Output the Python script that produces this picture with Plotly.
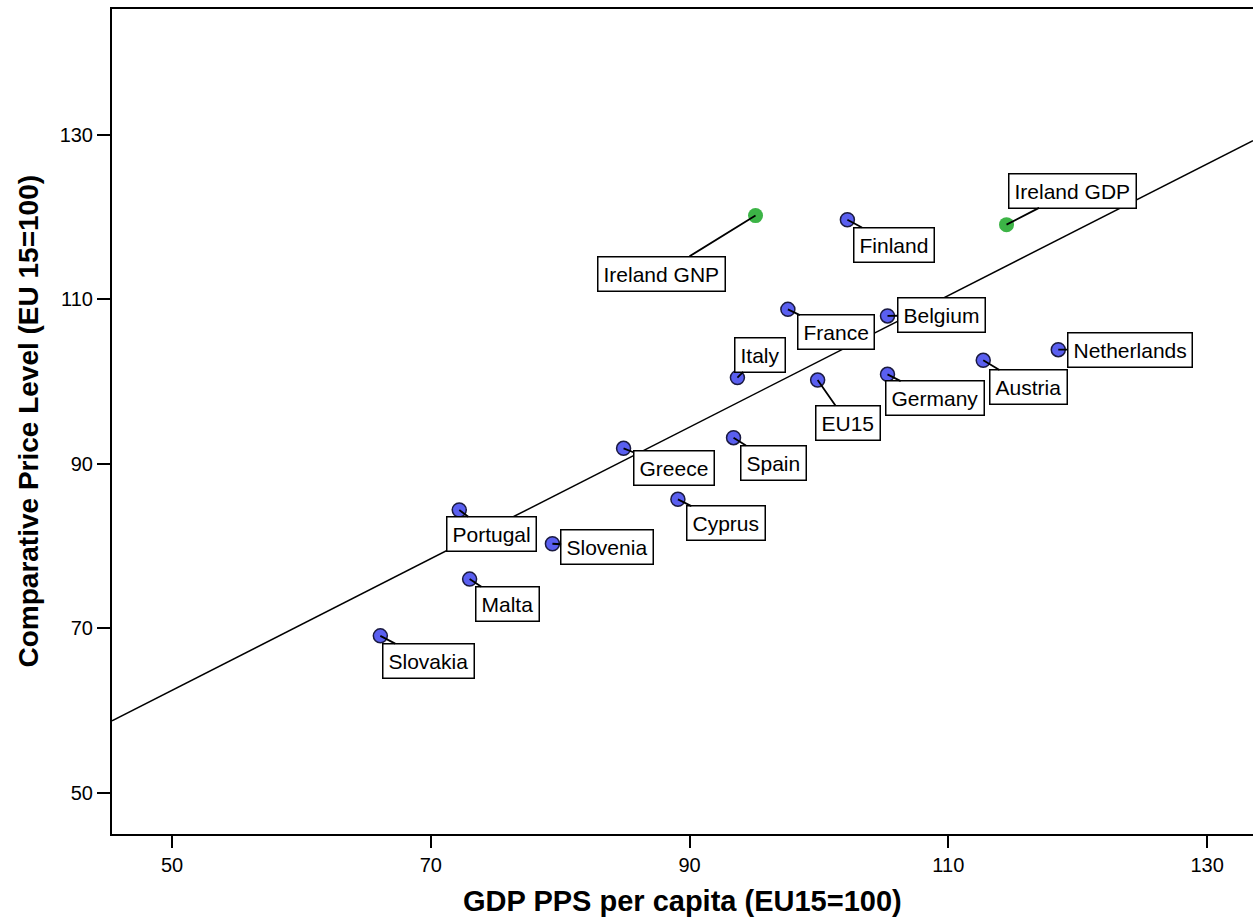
import numpy as np
import plotly.graph_objects as go

countries = ["Ireland GNP", "Ireland GDP", "Finland", "France", "Belgium", "Italy", "EU15",
             "Germany", "Austria", "Netherlands", "Greece", "Spain", "Cyprus", "Portugal",
             "Slovenia", "Malta", "Slovakia"]
gdp_pps = [95.1, 114.5, 102.2, 97.6, 105.3, 93.7, 99.9,
           105.3, 112.7, 118.5, 84.9, 93.4, 89.1, 72.2,
           79.4, 73.0, 66.1]
price_level = [120.2, 119.1, 119.7, 108.8, 108.0, 100.5, 100.2,
               100.9, 102.6, 103.9, 91.9, 93.2, 85.7, 84.4,
               80.3, 76.0, 69.1]
highlight = ["Ireland GNP", "Ireland GDP"]
tick_vals_x = [50, 70, 90, 110, 130]
tick_vals_y = [50, 70, 90, 110, 130]
x_title = "GDP PPS per capita (EU15=100)"
y_title = "Comparative Price Level (EU 15=100)"

# label offsets (pixels) of each label box centre relative to its point
label_offsets = {
    "Ireland GNP": (-94, 58), "Ireland GDP": (66, -34), "Finland": (47, 25),
    "France": (48, 23), "Belgium": (54, -1), "Italy": (23, -23), "EU15": (30, 43),
    "Germany": (47, 24), "Austria": (45, 27), "Netherlands": (72, 0),
    "Greece": (50, 20), "Spain": (40, 25), "Cyprus": (48, 24), "Portugal": (32, 24),
    "Slovenia": (55, 3), "Malta": (38, 25), "Slovakia": (48, 25),
}

FONT = "Arial, Liberation Sans, sans-serif"
xr = [45.36, 133.55]
yr = [45.01, 145.32]

fig = go.Figure()

# regression line fitted on all points
slope, intercept = np.polyfit(np.array(gdp_pps), np.array(price_level), 1)
lx = np.array(xr)
fig.add_trace(go.Scatter(x=lx, y=intercept + slope * lx, mode="lines",
                         line=dict(color="black", width=1.5), hoverinfo="skip",
                         showlegend=False))

blue_x = [x for c, x in zip(countries, gdp_pps) if c not in highlight]
blue_y = [y for c, y in zip(countries, price_level) if c not in highlight]
green_x = [x for c, x in zip(countries, gdp_pps) if c in highlight]
green_y = [y for c, y in zip(countries, price_level) if c in highlight]

fig.add_trace(go.Scatter(x=blue_x, y=blue_y, mode="markers",
                         marker=dict(size=14, color="#5a5ff0",
                                     line=dict(color="#1a1a40", width=1.5)),
                         showlegend=False))
fig.add_trace(go.Scatter(x=green_x, y=green_y, mode="markers",
                         marker=dict(size=15, color="#3cb446", line=dict(width=0)),
                         showlegend=False))

for c, x, y in zip(countries, gdp_pps, price_level):
    ax, ay = label_offsets[c]
    fig.add_annotation(x=x, y=y, text=c, showarrow=True, arrowhead=0, arrowwidth=1.8,
                       arrowcolor="black", ax=ax, ay=ay, standoff=0,
                       bgcolor="white", bordercolor="black", borderwidth=1.5, borderpad=5,
                       font=dict(family=FONT, size=21, color="black"))

fig.add_annotation(xref="paper", yref="paper", x=0.5, y=0, yshift=-67,
                   xanchor="center", yanchor="middle", showarrow=False,
                   text="<b>" + x_title + "</b>",
                   font=dict(family=FONT, size=29, color="black"))
fig.add_annotation(xref="paper", yref="paper", x=0, y=0.5, xshift=-84,
                   xanchor="center", yanchor="middle", showarrow=False, textangle=-90,
                   text="<b>" + y_title + "</b>",
                   font=dict(family=FONT, size=28, color="black"))

fig.update_layout(
    width=1253, height=919,
    margin=dict(l=112, r=0, t=9, b=85),
    paper_bgcolor="white", plot_bgcolor="white",
    font=dict(family=FONT, color="black"),
    xaxis=dict(range=xr, tickvals=tick_vals_x, ticks="outside", ticklen=12, tickwidth=2,
               tickcolor="black", showline=True, linecolor="black", linewidth=2,
               mirror=True, showgrid=False, zeroline=False,
               tickfont=dict(family=FONT, size=20, color="black")),
    yaxis=dict(range=yr, tickvals=tick_vals_y, ticks="outside", ticklen=13, tickwidth=2,
               tickcolor="black", showline=True, linecolor="black", linewidth=2,
               showgrid=False, zeroline=False,
               tickfont=dict(family=FONT, size=20, color="black")),
)

fig.write_html("out.html", config={"displayModeBar": False},
               post_script="document.body.style.margin='0';document.body.style.overflow='hidden';")
